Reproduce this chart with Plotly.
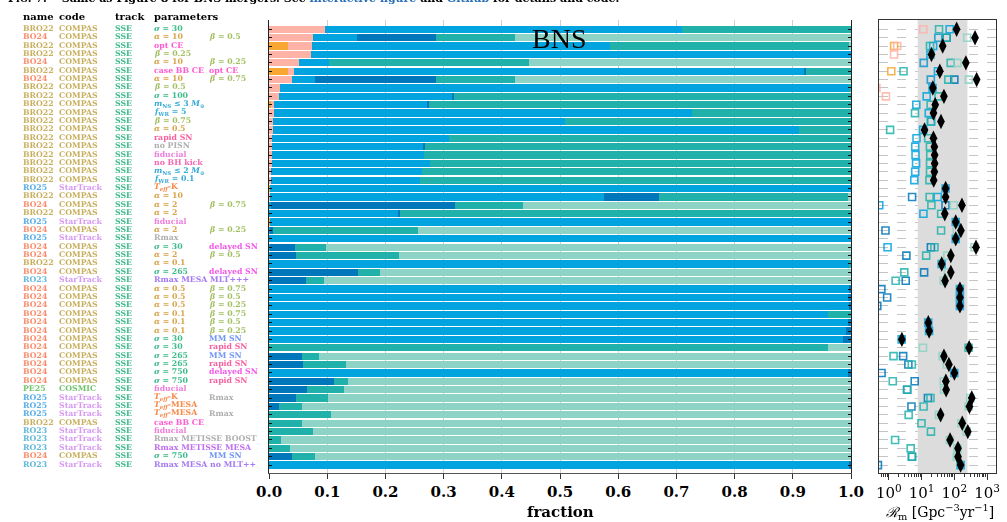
import plotly.graph_objects as go

W, H = 1007, 522


def X(p):
    return p / W


def Y(p):
    return 1 - p / H


# ---------------- data ----------------
names = ["BRO22", "BO24", "BRO22", "BRO22", "BO24", "BRO22", "BO24", "BRO22", "BRO22", "BRO22",
         "BRO22", "BRO22", "BRO22", "BRO22", "BRO22", "BRO22", "BRO22", "BRO22", "BRO22", "RO25",
         "BRO22", "BO24", "BRO22", "RO25", "BO24", "RO25", "BO24", "BO24", "BRO22", "BO24",
         "RO23", "BO24", "BO24", "BO24", "BO24", "BO24", "BO24", "BO24", "BO24", "BO24",
         "BO24", "BO24", "BO24", "PE25", "RO25", "RO25", "RO25", "BRO22", "RO23", "RO23",
         "RO23", "BO24", "RO23"]

codes = ["COMPAS"] * 19 + ["StarTrack"] + ["COMPAS"] * 3 + ["StarTrack", "COMPAS", "StarTrack"] + \
        ["COMPAS"] * 4 + ["StarTrack"] + ["COMPAS"] * 12 + ["COSMIC", "StarTrack", "StarTrack", "StarTrack",
                                                             "COMPAS", "StarTrack", "StarTrack", "StarTrack",
                                                             "COMPAS", "StarTrack"]

tracks = ["SSE"] * 53

param_a = ["s30", "a10", "optCE", "b0.25", "a10", "caseBB", "a10", "b0.5", "s100", "mNS3",
           "fWR5", "b0.75", "a0.5", "rapid", "noPISN", "fid", "noBHkick", "mNS2", "fWR0.1", "TeffK",
           "a10", "a2", "a2", "fid", "a2", "Rmax", "s30", "a2", "a0.1", "s265",
           "RmaxMLT", "a0.5", "a0.5", "a0.5", "a0.1", "a0.1", "a0.1", "s30", "s30", "s265",
           "s265", "s750", "s750", "fid", "TeffK", "TeffMESA", "TeffMESA", "caseBB", "fid", "RmaxBOOST",
           "RmaxMESA", "s750", "RmaxNoMLT"]

param_b = ["", "b0.5", "", "", "b0.25", "optCE", "b0.75", "", "", "",
           "", "", "", "", "", "", "", "", "", "",
           "", "b0.75", "", "", "b0.25", "", "delayed", "b0.5", "", "delayed",
           "", "b0.75", "b0.5", "b0.25", "b0.75", "b0.5", "b0.25", "MM", "rapid", "MM",
           "rapid", "delayed", "rapid", "", "Rmax", "", "Rmax", "", "", "",
           "", "MM", ""]

# channel fractions (stacked bars, left panel)
frac_orange = [0, 0, 0.033, 0, 0, 0.033, 0, 0, 0, 0.003,
               0, 0, 0, 0, 0, 0, 0, 0, 0, 0.002,
               0, 0, 0, 0.002, 0, 0, 0, 0, 0, 0,
               0, 0, 0, 0, 0, 0, 0, 0, 0, 0,
               0, 0, 0, 0, 0, 0, 0, 0, 0, 0,
               0, 0, 0]
frac_pink = [0.096, 0.075, 0.041, 0.072, 0.051, 0.010, 0.039, 0.019, 0.017, 0.005,
             0.008, 0.007, 0.007, 0.005, 0.005, 0.005, 0.005, 0.003, 0.003, 0,
             0.002, 0, 0, 0, 0, 0, 0, 0, 0, 0,
             0, 0, 0, 0, 0, 0, 0, 0, 0, 0,
             0, 0, 0, 0, 0, 0, 0, 0, 0, 0,
             0, 0, 0]
frac_lblue = [0.613, 0.076, 0.512, 0.928, 0.052, 0.877, 0.040, 0.979, 0.298, 0.265,
              0.719, 0.501, 0.904, 0.304, 0.261, 0.261, 0.271, 0.260, 0.256, 0.998,
              0.573, 0.003, 0.223, 0.998, 0.002, 1.0, 0.002, 0.002, 0.997, 0,
              0, 0.996, 0.994, 0.997, 0.961, 0.994, 0.992, 0.986, 0, 0,
              0, 0.994, 0, 0, 0, 0, 0, 0, 0, 0,
              0, 0, 0.997]
frac_dblue = [0, 0.136, 0, 0, 0, 0.002, 0.208, 0, 0.002, 0.002,
              0, 0, 0, 0, 0.002, 0, 0, 0, 0, 0,
              0.095, 0.316, 0.002, 0, 0.005, 0, 0.042, 0.044, 0, 0.153,
              0.063, 0.004, 0.006, 0.003, 0, 0.006, 0.008, 0.014, 0, 0.057,
              0.058, 0.006, 0.112, 0.065, 0.046, 0.017, 0, 0, 0, 0,
              0, 0.039, 0.003]
frac_teal = [0.291, 0.136, 0.410, 0, 0.344, 0.078, 0.136, 0.002, 0.683, 0.725,
             0.273, 0.492, 0.089, 0.691, 0.732, 0.734, 0.724, 0.737, 0.741, 0,
             0.325, 0.117, 0.775, 0, 0.249, 0, 0.054, 0.177, 0.003, 0.038,
             0.031, 0, 0, 0, 0.039, 0, 0, 0, 0.961, 0.029,
             0.074, 0, 0.024, 0.064, 0.055, 0.040, 0.106, 0.057, 0.075, 0.021,
             0.036, 0.040, 0]
frac_lteal = [0, 0.577, 0.004, 0, 0.553, 0, 0.577, 0, 0, 0,
              0, 0, 0, 0, 0, 0, 0, 0, 0, 0,
              0.005, 0.564, 0, 0, 0.744, 0, 0.902, 0.777, 0, 0.809,
              0.906, 0, 0, 0, 0, 0, 0, 0, 0.039, 0.914,
              0.868, 0, 0.864, 0.871, 0.899, 0.943, 0.894, 0.943, 0.925, 0.979,
              0.964, 0.921, 0]

# total merger rate (right panel, Gpc^-3 yr^-1)
total_rate = [117, 427, 44, 20, 224, 36, 479, 22, 48, 26,
              23, 39, 12.3, 23, 24.5, 25, 25, 24.5, 23.4, 54,
              54, 170, 51, 110, 158, 110, 457, 78, 41, 78,
              52, 148, 148, 148, None, 16, 17, 2.5, 282, 48,
              68, 100, 55, 56, 339, 288, 38, 174, 257, 74,
              129, 129, 155]

observed_band = [7.6, 250]

channel_names = ["channel 1", "channel 2", "channel 3", "channel 4", "channel 5", "channel 6"]
channel_fracs = [frac_orange, frac_pink, frac_lblue, frac_dblue, frac_teal, frac_lteal]
channel_colors = ["#F9A633", "#FFB3A6", "#02A4E0", "#0077BB", "#20B2AA", "#8DD3C6"]

title_text = "BNS"

# ---------------- text styling ----------------
name_colors = {"BRO22": "#C9B060", "BO24": "#F98D6B", "RO25": "#5AADE8",
               "RO23": "#63B8D8", "PE25": "#72C46E"}
code_colors = {"COMPAS": "#C9B060", "StarTrack": "#D79AF0", "COSMIC": "#72C46E"}
track_color = "#3DBB8A"

param_text = {
    "s30": ("<i>σ</i> = 30", "#3DBB8A"), "s100": ("<i>σ</i> = 100", "#3DBB8A"),
    "s265": ("<i>σ</i> = 265", "#3DBB8A"), "s750": ("<i>σ</i> = 750", "#3DBB8A"),
    "a10": ("<i>α</i> = 10", "#D9A44A"), "a2": ("<i>α</i> = 2", "#D9A44A"),
    "a0.5": ("<i>α</i> = 0.5", "#D9A44A"), "a0.1": ("<i>α</i> = 0.1", "#D9A44A"),
    "b0.25": ("<i>β</i> = 0.25", "#A3C064"), "b0.5": ("<i>β</i> = 0.5", "#A3C064"),
    "b0.75": ("<i>β</i> = 0.75", "#A3C064"),
    "optCE": ("opt CE", "#FF5AD2"), "caseBB": ("case BB CE", "#FF5AD2"),
    "rapid": ("rapid SN", "#F7619E"), "delayed": ("delayed SN", "#F25AE6"),
    "MM": ("MM SN", "#7397F2"),
    "noPISN": ("no PISN", "#AFAFAF"), "fid": ("fiducial", "#EE7FDC"),
    "noBHkick": ("no BH kick", "#F567B5"),
    "mNS3": ("<i>m</i><sub>NS</sub> ≤ 3 <i>M</i><sub>⊙</sub>", "#35AAD6"),
    "mNS2": ("<i>m</i><sub>NS</sub> ≤ 2 <i>M</i><sub>⊙</sub>", "#35AAD6"),
    "fWR5": ("<i>f</i><sub>WR</sub> = 5", "#35AAD6"),
    "fWR0.1": ("<i>f</i><sub>WR</sub> = 0.1", "#35AAD6"),
    "TeffK": ("<i>T<sub>eff</sub></i>-K", "#F58A4B"),
    "TeffMESA": ("<i>T<sub>eff</sub></i>-MESA", "#F58A4B"),
    "Rmax": ("Rmax", "#AFAFAF"),
    "RmaxMLT": ("Rmax MESA MLT+++", "#A57BF2"),
    "RmaxBOOST": ("Rmax METISSE BOOST", "#AFAFAF"),
    "RmaxMESA": ("Rmax METISSE MESA", "#C16FEF"),
    "RmaxNoMLT": ("Rmax MESA no MLT++", "#A57BF2"),
}

SERIF = "DejaVu Serif"
rows = list(range(len(names)))

fig = go.Figure()

# ---------------- left stacked bars ----------------
for nm, fr, col in zip(channel_names, channel_fracs, channel_colors):
    fig.add_trace(go.Bar(x=fr, y=rows, orientation="h", name=nm, width=0.87,
                         marker=dict(color=col, line=dict(width=0)),
                         xaxis="x", yaxis="y", showlegend=False))

# ---------------- right rate panel ----------------
fig.add_trace(go.Scatter(x=[observed_band[0], observed_band[1], observed_band[1], observed_band[0]],
                         y=[-5, -5, 60, 60], fill="toself", fillcolor="#DCDCDC",
                         line=dict(width=0), mode="lines", hoverinfo="skip",
                         xaxis="x2", yaxis="y2", showlegend=False))

for nm, fr, col in zip(channel_names, channel_fracs, channel_colors):
    xs, ys = [], []
    for i, (f, t) in enumerate(zip(fr, total_rate)):
        if t is not None and f > 0:
            xs.append(f * t)
            ys.append(i)
    fig.add_trace(go.Scatter(x=xs, y=ys, mode="markers", name=nm,
                             marker=dict(symbol="square-open", size=7, color=col,
                                         line=dict(width=1.6, color=col)),
                             opacity=0.85, xaxis="x2", yaxis="y2", showlegend=False))

tx = [t for t in total_rate if t is not None]
ty = [i for i, t in enumerate(total_rate) if t is not None]
fig.add_trace(go.Scatter(x=tx, y=ty, mode="markers", name="total",
                         marker=dict(symbol="diamond-tall", size=11, color="black"),
                         xaxis="x2", yaxis="y2", showlegend=False))

# ---------------- annotations ----------------
ann = []
hdr_font = dict(family=SERIF, size=10, color="black", weight="bold")
for txt, xp in [("name", 20.7), ("code", 57.3), ("track", 113.3), ("parameters", 152.3)]:
    ann.append(dict(text=txt, x=X(xp), y=Y(16.5), xref="paper", yref="paper",
                    xanchor="left", yanchor="middle", showarrow=False, font=hdr_font))

fs = 7.8
for i in rows:
    yv = i - 0.12
    items = [(names[i], name_colors[names[i]], 20.7),
             (codes[i], code_colors[codes[i]], 57.3),
             (tracks[i], track_color, 113.3)]
    t, c = param_text[param_a[i]]
    items.append((t, c, 152.3))
    if param_b[i]:
        t, c = param_text[param_b[i]]
        items.append((t, c, 206.5))
    for txt, col, xp in items:
        ann.append(dict(text=txt, x=X(xp), y=yv, xref="paper", yref="y",
                        xanchor="left", yanchor="middle", showarrow=False,
                        font=dict(family=SERIF, size=fs, color=col, weight="bold")))

ann.append(dict(text=title_text, x=X(559), y=Y(39), xref="paper", yref="paper",
                xanchor="center", yanchor="middle", showarrow=False,
                font=dict(family="Liberation Serif", size=28, color="black")))
ann.append(dict(text="fraction", x=X(560), y=Y(512), xref="paper", yref="paper",
                xanchor="center", yanchor="middle", showarrow=False,
                font=dict(family=SERIF, size=15, color="black", weight="bold")))
ann.append(dict(text="<i>ℛ</i><sub>m</sub> [Gpc<sup>−3</sup>yr<sup>−1</sup>]", x=X(940), y=Y(512),
                xref="paper", yref="paper", xanchor="center", yanchor="middle", showarrow=False,
                font=dict(family=SERIF, size=14, color="black")))
ann.append(dict(text="F<span style='font-size:9px'>IG</span>. 7.— Same as Figure 8 for BNS mergers. See "
                     "<span style='color:#2a6fb5'>interactive figure</span> and "
                     "<span style='color:#2a6fb5'>Github</span> for details and code.",
                x=X(6), y=Y(-1), xref="paper", yref="paper", xanchor="left", yanchor="middle",
                showarrow=False, font=dict(family=SERIF, size=11, color="black", weight="bold")))

minor_vals = [v * m for m in (0.1, 1, 10, 100, 1000) for v in range(2, 10)]

fig.update_layout(
    width=W, height=H, margin=dict(l=0, r=0, t=0, b=0, autoexpand=False),
    paper_bgcolor="white", plot_bgcolor="white",
    barmode="stack", bargap=0.13,
    annotations=ann,
    xaxis=dict(domain=[X(269.1), X(851)], range=[0, 1], tickmode="linear", tick0=0, dtick=0.1,
               tickformat=".1f", showgrid=True, gridcolor="#CFCFCF", gridwidth=1,
               zeroline=False, showline=True, linecolor="#555555", linewidth=1,
               ticks="outside", ticklen=5, tickcolor="#333333",
               tickfont=dict(family=SERIF, size=15, color="black", weight="bold"),
               anchor="y"),
    yaxis=dict(domain=[Y(473), Y(20)], range=[52.94, -1.11], tickmode="array", tickvals=rows,
               showticklabels=False, showgrid=False, zeroline=False,
               showline=True, linecolor="#222222", linewidth=1, mirror="ticks",
               ticks="inside", ticklen=3, tickcolor="#111111", anchor="x"),
    xaxis2=dict(domain=[X(879), X(996)], type="log", range=[-0.3, 3.27],
                tickmode="array", tickvals=[1, 10, 100, 1000],
                ticktext=["10<sup>0</sup>", "10<sup>1</sup>", "10<sup>2</sup>", "10<sup>3</sup>"],
                showgrid=False, zeroline=False, showline=True, linecolor="#333333", linewidth=1,
                mirror=True, ticks="outside", ticklen=6, tickcolor="#333333",
                minor=dict(tickmode="array", tickvals=minor_vals, ticks="outside", ticklen=3,
                           tickcolor="#333333", showgrid=False),
                tickfont=dict(family=SERIF, size=15, color="black"), anchor="y2"),
    yaxis2=dict(domain=[Y(473), Y(20)], range=[52.94, -1.11], tickmode="array", tickvals=rows,
                showticklabels=False, showgrid=True, gridcolor="#C4C4C4", gridwidth=1,
                griddash="dash", zeroline=False, showline=True, linecolor="#333333",
                linewidth=1, mirror=True, ticks="", anchor="x2"),
)

fig.write_html("out.html")
